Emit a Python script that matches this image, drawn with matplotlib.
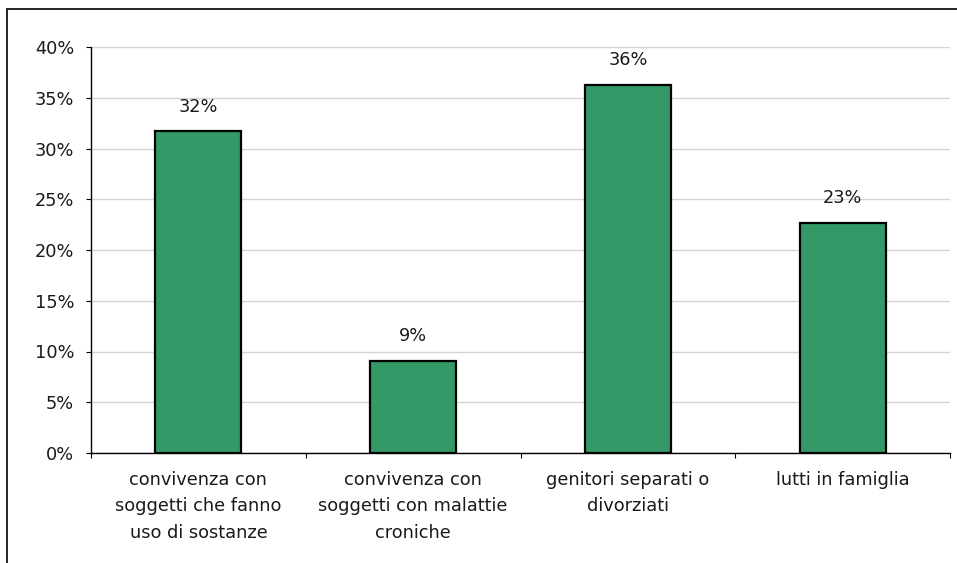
import matplotlib
matplotlib.use("Agg")
import matplotlib.pyplot as plt
from matplotlib.patches import Rectangle
from matplotlib.ticker import FixedLocator, FuncFormatter

categories = ["convivenza con\nsoggetti che fanno\nuso di sostanze",
              "convivenza con\nsoggetti con malattie\ncroniche",
              "genitori separati o\ndivorziati",
              "lutti in famiglia"]
values = [31.7, 9.1, 36.3, 22.7]
labels = ["32%", "9%", "36%", "23%"]
yticks = [0, 5, 10, 15, 20, 25, 30, 35, 40]

W, H = 957, 563
FS = 12.8
fig = plt.figure(figsize=(W/100, H/100), dpi=100)
plt.rcParams['font.family'] = ['DejaVu Sans']
ax = fig.add_axes([91/W, 1-453/H, (950-91)/W, (453-47)/H])

x = list(range(len(categories)))
ax.bar(x, values, width=0.4, color="#339966", edgecolor="black", linewidth=1.6, zorder=3)
for xi, v, lb in zip(x, values, labels):
    ax.text(xi, v + 1.5, lb, ha="center", va="bottom", fontsize=FS, color="#1a1a1a")

ax.set_xlim(-0.5, len(categories) - 0.5)
ax.set_ylim(0, 40)
ax.yaxis.set_major_locator(FixedLocator(yticks))
ax.yaxis.set_major_formatter(FuncFormatter(lambda v, p: f"{int(v)}%"))
ax.grid(axis="y", color="#d4d4d4", linewidth=1, zorder=0)
ax.set_xticks([i - 0.5 for i in range(len(categories) + 1)])
ax.set_xticklabels([])
ax.set_xticks(x, minor=True)
ax.set_xticklabels(categories, minor=True, fontsize=FS, color="#1a1a1a", linespacing=1.6)
ax.tick_params(axis="x", which="minor", length=0, pad=13)
ax.tick_params(axis="x", which="major", length=3.6, direction="out", color="black")
ax.tick_params(axis="y", length=3.6, direction="out", labelsize=FS, labelcolor="#1a1a1a", pad=8.5)
for s in ["top", "right"]:
    ax.spines[s].set_visible(False)
for s in ["left", "bottom"]:
    ax.spines[s].set_color("black")
    ax.spines[s].set_linewidth(1)

fig.patches.append(Rectangle((7/W, -0.05), 1.1, 1.05 - 9/H, transform=fig.transFigure,
                             fill=False, edgecolor="black", linewidth=1.2))
fig.savefig("out.png", dpi=100)
